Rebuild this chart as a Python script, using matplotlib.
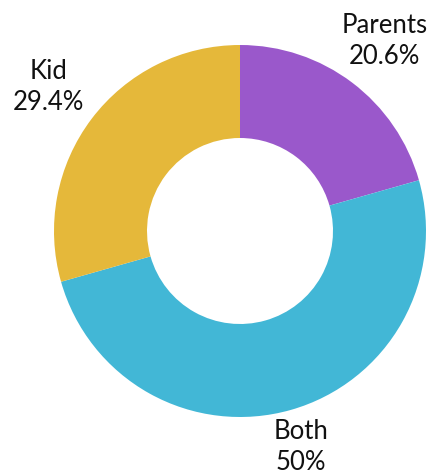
import numpy as np
import matplotlib.pyplot as plt

categories = ['Parents', 'Both', 'Kid']
shares = [20.6, 50, 29.4]
colors = ['#9a58cb', '#42b7d6', '#e5b83a']

fig = plt.figure(figsize=(4.35, 4.77), dpi=100)
ax = fig.add_axes([0, 0, 1, 1])

labels = [f'{c}\n{v:g}%' for c, v in zip(categories, shares)]
wedges, texts = ax.pie(shares, colors=colors, labels=labels, startangle=90,
                       counterclock=False, center=(240, 245), radius=186,
                       labeldistance=1.29, wedgeprops=dict(width=93, linewidth=0),
                       textprops=dict(fontsize=18.5, family=['Lato', 'DejaVu Sans'],
                                      color='#111111', linespacing=1.3))
for t in texts:
    t.set_ha('center')
    t.set_va('center')
# bottom label sits a little closer to the ring
x, y = texts[1].get_position()
texts[1].set_position((240 + (x - 240) * 0.93, 245 + (y - 245) * 0.93))

ax.set_xlim(0, 435)
ax.set_ylim(0, 477)
ax.axis('off')
fig.savefig('out.png', dpi=100)
